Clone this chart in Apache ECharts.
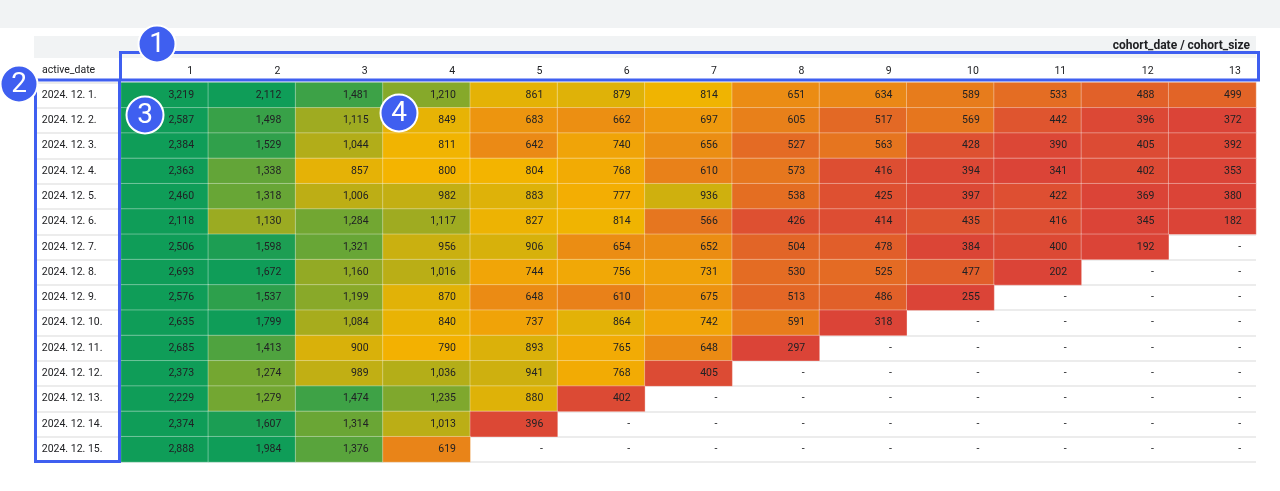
<!DOCTYPE html>
<html>
<head>
<meta charset="utf-8">
<script src="https://cdn.jsdelivr.net/npm/echarts@6/dist/echarts.min.js"></script>
<style>
html,body{margin:0;padding:0;background:#fff;}
#chart{width:1280px;height:491px;}
</style>
</head>
<body>
<div id="chart"></div>
<script>
const activeDates = ['2024. 12. 1.','2024. 12. 2.','2024. 12. 3.','2024. 12. 4.','2024. 12. 5.','2024. 12. 6.','2024. 12. 7.','2024. 12. 8.','2024. 12. 9.','2024. 12. 10.','2024. 12. 11.','2024. 12. 12.','2024. 12. 13.','2024. 12. 14.','2024. 12. 15.'];
const cohortDays = ['1','2','3','4','5','6','7','8','9','10','11','12','13'];
const counts = [
  [3219,2112,1481,1210,861,879,814,651,634,589,533,488,499],
  [2587,1498,1115,849,683,662,697,605,517,569,442,396,372],
  [2384,1529,1044,811,642,740,656,527,563,428,390,405,392],
  [2363,1338,857,800,804,768,610,573,416,394,341,402,353],
  [2460,1318,1006,982,883,777,936,538,425,397,422,369,380],
  [2118,1130,1284,1117,827,814,566,426,414,435,416,345,182],
  [2506,1598,1321,956,906,654,652,504,478,384,400,192,null],
  [2693,1672,1160,1016,744,756,731,530,525,477,202,null,null],
  [2576,1537,1199,870,648,610,675,513,486,255,null,null,null],
  [2635,1799,1084,840,737,864,742,591,318,null,null,null,null],
  [2685,1413,900,790,893,765,648,297,null,null,null,null,null],
  [2373,1274,989,1036,941,768,405,null,null,null,null,null,null],
  [2229,1279,1474,1235,880,402,null,null,null,null,null,null,null],
  [2374,1607,1314,1013,396,null,null,null,null,null,null,null,null],
  [2888,1984,1376,619,null,null,null,null,null,null,null,null,null]
];

// colour scale (red -> yellow -> green)
const colorStops = [[380,[219,68,55]],[800,[244,180,0]],[1650,[15,157,88]]];
function colorFor(v){
  if (v <= colorStops[0][0]) return 'rgb(' + colorStops[0][1].join(',') + ')';
  for (let k = 1; k < colorStops.length; k++) {
    if (v <= colorStops[k][0]) {
      const a = colorStops[k-1], b = colorStops[k];
      const t = (v - a[0]) / (b[0] - a[0]);
      const c = a[1].map((x, i) => Math.round(x + (b[1][i] - x) * t));
      return 'rgb(' + c.join(',') + ')';
    }
  }
  return 'rgb(' + colorStops[colorStops.length-1][1].join(',') + ')';
}

const FONT = 'Roboto';
const cellData = [];
counts.forEach((row, i) => {
  cohortDays.forEach((d, j) => {
    const v = row[j];
    if (v == null) {
      cellData.push({value:[j, i, 0], itemStyle:{color:'rgba(0,0,0,0)', borderWidth:0}, label:{formatter:'-'}});
    } else {
      cellData.push({value:[j, i, v], itemStyle:{color:colorFor(v)}, label:{formatter:v.toLocaleString('en-US')}});
    }
  });
});
const labelData = activeDates.map((d, i) => ({value:[0, i, 0], label:{formatter:d}}));

const chart = echarts.init(document.getElementById('chart'), null, {renderer:'canvas'});
const blue = '#3f5ff0';
function badge(n, x, y){
  return {type:'group', z:100, children:[
    {type:'circle', shape:{cx:x, cy:y, r:18.5}, style:{fill:blue, stroke:'#fff', lineWidth:2}, z:100},
    {type:'text', x:x, y:y+1, style:{text:n, fill:'#fff', font:'normal 28px ' + FONT, align:'center', verticalAlign:'middle'}, z:101}
  ]};
}
chart.setOption({
  animation:false,
  backgroundColor:'#fff',
  grid:[
    {left:34, width:87, top:82.5, bottom:29},
    {left:121, right:24, top:82.5, bottom:29}
  ],
  xAxis:[
    {gridIndex:0, type:'category', data:['active_date'], show:false},
    {gridIndex:1, type:'category', data:cohortDays, position:'top',
     axisLine:{show:false}, axisTick:{show:false}, splitLine:{show:false},
     axisLabel:{margin:6, color:'#202124', fontFamily:FONT, fontSize:10.5,
       formatter:'{v|{value}}', rich:{v:{width:57, align:'right', fontFamily:FONT, fontSize:10.5, color:'#202124'}}}}
  ],
  yAxis:[
    {gridIndex:0, type:'category', data:activeDates, inverse:true,
     axisLine:{show:false}, axisTick:{show:false}, axisLabel:{show:false},
     splitLine:{show:true, lineStyle:{color:'#e6e6e6', width:1.5}}},
    {gridIndex:1, type:'category', data:activeDates, inverse:true,
     axisLine:{show:false}, axisTick:{show:false}, axisLabel:{show:false},
     splitLine:{show:true, lineStyle:{color:'#e6e6e6', width:1.5}}}
  ],
  series:[
    {type:'heatmap', xAxisIndex:0, yAxisIndex:0, data:labelData,
     itemStyle:{color:'rgba(0,0,0,0)'},
     label:{show:true, position:'insideLeft', distance:8, color:'#202124', fontFamily:FONT, fontSize:10.5},
     emphasis:{disabled:true}, silent:true},
    {type:'heatmap', xAxisIndex:1, yAxisIndex:1, data:cellData,
     itemStyle:{borderColor:'rgba(255,255,255,0.35)', borderWidth:1},
     label:{show:true, position:'insideRight', distance:15, color:'#202124', fontFamily:FONT, fontSize:10.5},
     emphasis:{disabled:true}, silent:true}
  ],
  graphic:[
    {type:'rect', z:-1, shape:{x:0, y:0, width:1280, height:28}, style:{fill:'#f1f3f4'}},
    {type:'rect', z:-1, shape:{x:34, y:36, width:1222, height:22}, style:{fill:'#f1f3f4'}},
    {type:'text', z:5, x:1250, y:46, style:{text:'cohort_date / cohort_size', fill:'#202124', font:'bold 12px ' + FONT, align:'right', verticalAlign:'middle'}},
    {type:'text', z:5, x:42, y:70, style:{text:'active_date', fill:'#202124', font:'normal 10.5px ' + FONT, align:'left', verticalAlign:'middle'}},
    {type:'rect', z:90, shape:{x:120.5, y:52.5, width:1138, height:27.5}, style:{fill:'none', stroke:blue, lineWidth:3}},
    {type:'rect', z:90, shape:{x:35.5, y:80, width:84, height:381.5}, style:{fill:'none', stroke:blue, lineWidth:3}},
    badge('1', 157, 44),
    badge('2', 19, 84),
    badge('3', 145, 115),
    badge('4', 399, 113)
  ]
});
</script>
</body>
</html>
